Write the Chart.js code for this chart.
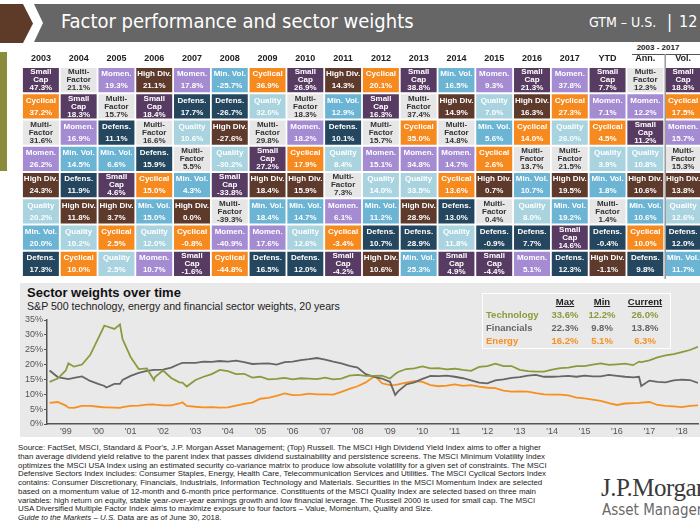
<!DOCTYPE html>
<html>
<head>
<meta charset="utf-8">
<script src="https://cdn.jsdelivr.net/npm/chart.js@4.4.0/dist/chart.umd.min.js"></script>
<style>
  html, body { margin: 0; padding: 0; background: #fff; overflow: hidden; }
  #page { position: relative; width: 700px; height: 525px; overflow: hidden;
    font-family: "Liberation Sans", Arial, sans-serif; }
  .abs { position: absolute; }
  #hdrBrown { left: 0; top: 4px; width: 34px; height: 39px; background: #5e3a29;
    clip-path: polygon(0 0, 23px 0, 33px 50%, 23px 100%, 0 100%); }
  #hdrBar { left: 34px; top: 4px; width: 666px; height: 38px; background: #666;
    clip-path: polygon(0 0, 100% 0, 100% 100%, 0 100%, 9px 50%); }
  #hdrTitle { left: 61px; top: 9px; color: #fff; font-size: 20px; white-space: nowrap;
    font-family: "Liberation Sans Narrow", "DejaVu Sans Condensed", sans-serif; }
  .hdrR { top: 14px; color: #fff; font-size: 14px; white-space: nowrap;
    font-family: "Liberation Sans Narrow", "DejaVu Sans Condensed", sans-serif; }
  #olive { left: 0; top: 52px; width: 7px; height: 119px; background: #8a8b3b; }
  #annHead { left: 632px; top: 43px; width: 52px; text-align: center; font-size: 8px;
    font-weight: bold; color: #222; }
  #annLine { left: 632px; top: 54px; width: 68px; height: 1px; background: #555; }
  #panel { left: 20px; top: 283px; width: 680px; height: 154px; background: #e9e9e9; }
  #lineTitle { left: 27px; top: 285px; font-size: 13px; font-weight: bold; color: #111; }
  #lineSub { left: 27px; top: 300px; font-size: 10.6px; color: #222; white-space: nowrap; }
  #statBox { left: 482px; top: 293px; width: 187px; height: 54px; border: 1.5px solid #fff; }
  .st { position: absolute; font-size: 9.5px; font-weight: bold; white-space: nowrap; }
  #footer { left: 18px; top: 444px; font-size: 7.9px; line-height: 8.75px; color: #222;
    white-space: pre; }
  #logo1 { left: 601px; top: 474px; font-family: "Liberation Serif", serif; font-size: 25px;
    color: #3a3a3a; white-space: nowrap; letter-spacing: -0.5px; }
  #logo2 { left: 602px; top: 501px; font-size: 15px; color: #6a6a6a; white-space: nowrap;
    font-family: "Liberation Sans Narrow", "DejaVu Sans Condensed", sans-serif; }
</style>
</head>
<body>
<div id="page">
  <div class="abs" id="hdrBrown"></div>
  <div class="abs" id="hdrBar"></div>
  <div class="abs" id="hdrTitle">Factor performance and sector weights</div>
  <div class="abs hdrR" style="left:589px;">GTM – U.S.</div>
  <div class="abs hdrR" style="left:667px;font-size:17px;top:12px;">|</div>
  <div class="abs hdrR" style="left:679px;font-size:16px;top:12px;">12</div>
  <div class="abs" id="olive"></div>
  <div class="abs" id="annHead">2003 - 2017</div>
  <div class="abs" id="annLine"></div>
  <canvas class="abs" id="quilt" width="720" height="240" style="left:0;top:40px;"></canvas>

  <div class="abs" id="panel"></div>
  <div class="abs" id="lineTitle">Sector weights over time</div>
  <div class="abs" id="lineSub">S&amp;P 500 technology, energy and financial sector weights, 20 years</div>
  <canvas class="abs" id="sectors" width="680" height="154" style="left:20px;top:283px;"></canvas>
  <div class="abs" id="statBox"></div>

  <div class="abs" id="footer">Source: FactSet, MSCI, Standard &amp; Poor's, J.P. Morgan Asset Management; (Top) Russell. The MSCI High Dividend Yield Index aims to offer a higher
than average dividend yield relative to the parent index that passes dividend sustainability and persistence screens. The MSCI Minimum Volatility Index
optimizes the MSCI USA Index using an estimated security co-variance matrix to produce low absolute volatility for a given set of constraints. The MSCI
Defensive Sectors Index includes: Consumer Staples, Energy, Health Care, Telecommunication Services and Utilities. The MSCI Cyclical Sectors Index
contains: Consumer Discretionary, Financials, Industrials, Information Technology and Materials. Securities in the MSCI Momentum Index are selected
based on a momentum value of 12-month and 6-month price performance. Constituents of the MSCI Quality Index are selected based on three main
variables: high return on equity, stable year-over-year earnings growth and low financial leverage. The Russell 2000 is used for small cap. The MSCI
USA Diversified Multiple Factor Index aims to maximize exposure to four factors – Value, Momentum, Quality and Size.
<i>Guide to the Markets – U.S.</i> Data are as of June 30, 2018.</div>
  <div class="abs" id="logo1">J.P.Morgan</div>
  <div class="abs" id="logo2">Asset Management</div>
</div>

<script>
  'use strict';

  // Quilt: columns, and per column the factors ranked top to bottom with their returns.
  const quiltColumns = ['2003', '2004', '2005', '2006', '2007', '2008', '2009', '2010',
    '2011', '2012', '2013', '2014', '2015', '2016', '2017', 'YTD', 'Ann.', 'Vol.'];

  const quiltFactors = [
    ['SC', 'CY', 'MF', 'MO', 'HD', 'QU', 'MV', 'DF'],
    ['MF', 'SC', 'MO', 'MV', 'DF', 'HD', 'QU', 'CY'],
    ['MO', 'MF', 'DF', 'MV', 'SC', 'HD', 'CY', 'QU'],
    ['HD', 'SC', 'MF', 'DF', 'CY', 'MV', 'QU', 'MO'],
    ['MO', 'DF', 'QU', 'MF', 'MV', 'HD', 'CY', 'SC'],
    ['MV', 'DF', 'HD', 'QU', 'SC', 'MF', 'MO', 'CY'],
    ['CY', 'QU', 'MF', 'SC', 'HD', 'MV', 'MO', 'DF'],
    ['SC', 'MF', 'MO', 'CY', 'HD', 'MV', 'QU', 'DF'],
    ['HD', 'MV', 'DF', 'QU', 'MF', 'MO', 'CY', 'SC'],
    ['CY', 'SC', 'MF', 'MO', 'QU', 'MV', 'DF', 'HD'],
    ['SC', 'MF', 'CY', 'MO', 'QU', 'HD', 'DF', 'MV'],
    ['MV', 'HD', 'MF', 'MO', 'CY', 'DF', 'QU', 'SC'],
    ['MO', 'QU', 'MV', 'CY', 'HD', 'MF', 'DF', 'SC'],
    ['SC', 'HD', 'CY', 'MF', 'MV', 'QU', 'DF', 'MO'],
    ['MO', 'CY', 'QU', 'MF', 'HD', 'MV', 'SC', 'DF'],
    ['SC', 'MO', 'CY', 'QU', 'MV', 'MF', 'DF', 'HD'],
    ['MF', 'MO', 'SC', 'QU', 'HD', 'MV', 'CY', 'DF'],
    ['SC', 'CY', 'MO', 'MF', 'HD', 'QU', 'DF', 'MV'],
  ];

  const quiltReturns = [
    [47.3, 37.2, 31.6, 26.2, 24.3, 20.2, 20.0, 17.3],
    [21.1, 18.3, 16.9, 14.5, 11.9, 11.8, 10.2, 10.0],
    [19.3, 15.7, 11.1, 6.6, 4.6, 3.7, 2.5, 2.5],
    [21.1, 18.4, 16.6, 15.9, 15.0, 15.0, 12.0, 10.7],
    [17.8, 17.7, 10.6, 5.5, 4.3, 0.0, -0.8, -1.6],
    [-25.7, -26.7, -27.6, -30.2, -33.8, -39.3, -40.9, -44.8],
    [36.9, 32.0, 29.8, 27.2, 18.4, 18.4, 17.6, 16.5],
    [26.9, 18.3, 18.2, 17.9, 15.9, 14.7, 12.6, 12.0],
    [14.3, 12.9, 10.1, 8.4, 7.3, 6.1, -3.4, -4.2],
    [20.1, 16.3, 15.7, 15.1, 14.0, 11.2, 10.7, 10.6],
    [38.8, 37.4, 35.0, 34.8, 33.5, 28.9, 28.9, 25.3],
    [16.5, 14.9, 14.8, 14.7, 13.6, 13.0, 11.8, 4.9],
    [9.3, 7.0, 5.6, 2.6, 0.7, 0.4, -0.9, -4.4],
    [21.3, 16.3, 14.0, 13.7, 10.7, 8.0, 7.7, 5.1],
    [37.8, 27.3, 26.0, 21.5, 19.5, 19.2, 14.6, 12.3],
    [7.7, 7.1, 4.5, 3.9, 1.8, 1.4, -0.4, -1.1],
    [12.3, 12.2, 11.2, 10.8, 10.6, 10.6, 10.0, 9.8],
    [18.8, 17.5, 15.7, 15.3, 13.8, 12.6, 12.0, 11.7],
  ];

  const factorLabels = {
    SC: ['Small', 'Cap'], MF: ['Multi-', 'Factor'], MO: ['Momen.'], HD: ['High Div.'],
    MV: ['Min. Vol.'], CY: ['Cyclical'], DF: ['Defens.'], QU: ['Quality'],
  };
  const factorColors = {
    SC: '#583b62', MF: '#e6e6e6', MO: '#a58bd2', HD: '#5d3a2b',
    MV: '#6cb4d3', CY: '#f68a1f', DF: '#24465e', QU: '#a9d3df',
  };

  // Sector weights, % of S&P 500.
  const sectorDates = [
    1998.5, 1998.75, 1999.0, 1999.08, 1999.25, 1999.5, 1999.75, 2000.0, 2000.19, 2000.25,
    2000.5, 2000.67, 2000.75, 2001.0, 2001.25, 2001.5, 2001.72, 2001.75, 2002.0, 2002.25,
    2002.5, 2002.6, 2002.73, 2003.0, 2003.25, 2003.5, 2003.75, 2004.0, 2004.25, 2004.5,
    2004.75, 2005.0, 2005.25, 2005.5, 2005.75, 2006.0, 2006.25, 2006.5, 2006.75, 2007.0,
    2007.25, 2007.5, 2007.75, 2008.0, 2008.25, 2008.54, 2008.75, 2009.0, 2009.16, 2009.25,
    2009.5, 2009.75, 2010.0, 2010.25, 2010.5, 2010.75, 2011.0, 2011.25, 2011.5, 2011.75,
    2012.0, 2012.25, 2012.5, 2012.75, 2013.0, 2013.25, 2013.5, 2013.75, 2014.0, 2014.25,
    2014.5, 2014.75, 2015.0, 2015.25, 2015.5, 2015.75, 2016.0, 2016.25, 2016.5, 2016.68,
    2016.75, 2017.0, 2017.25, 2017.5, 2017.75, 2018.0, 2018.25, 2018.5,
  ];
  const techWeights = [
    14.2, 15.3, 18.0, 20.4, 19.3, 20.0, 23.2, 28.8, 33.1, 32.9,
    32.0, 33.5, 28.6, 22.5, 18.5, 18.7, 14.8, 15.8, 18.0, 15.5,
    14.0, 13.9, 12.6, 14.8, 15.9, 16.8, 18.2, 17.8, 16.8, 16.9,
    15.6, 15.9, 15.0, 15.2, 15.5, 15.0, 15.4, 15.3, 15.1, 15.6,
    15.0, 15.3, 16.3, 16.5, 16.2, 16.2, 16.3, 15.3, 16.8, 17.5,
    18.5, 18.7, 19.4, 18.7, 18.8, 18.4, 18.6, 18.2, 17.9, 19.2,
    19.5, 20.3, 19.5, 19.5, 18.2, 17.8, 17.6, 17.6, 18.3, 18.8,
    19.0, 19.5, 19.5, 20.0, 20.4, 19.9, 20.1, 20.3, 19.8, 21.0,
    20.8, 21.4, 22.4, 23.1, 23.5, 24.2, 24.9, 26.0,
  ];
  const finWeights = [
    18.0, 15.8, 15.3, 15.1, 15.5, 16.0, 14.5, 13.5, 12.8, 12.3,
    13.5, 13.5, 14.8, 16.2, 17.2, 17.9, 18.2, 18.2, 18.3, 19.0,
    20.2, 20.6, 20.6, 20.6, 21.0, 20.9, 21.2, 21.0, 21.3, 20.8,
    20.2, 20.3, 20.4, 20.0, 20.8, 21.0, 21.5, 21.8, 22.2, 21.7,
    21.0, 20.4, 19.6, 19.0, 16.8, 15.8, 15.3, 14.2, 9.8, 11.0,
    13.3, 14.0, 15.2, 16.2, 16.1, 16.3, 15.9, 15.4, 14.7, 13.9,
    13.7, 14.7, 15.0, 15.5, 15.8, 16.3, 16.5, 15.9, 15.9, 16.0,
    16.2, 15.9, 16.3, 16.0, 16.0, 16.5, 16.2, 15.9, 15.7, 15.9,
    12.8, 14.6, 14.2, 14.0, 14.7, 14.9, 14.8, 13.8,
  ];
  const energyWeights = [
    7.1, 7.4, 6.2, 5.5, 5.4, 6.1, 6.1, 5.8, 5.6, 5.6,
    5.5, 5.4, 5.7, 6.1, 6.2, 6.5, 6.6, 6.5, 6.3, 6.3,
    6.9, 7.3, 6.1, 5.8, 5.6, 5.7, 5.5, 5.6, 6.2, 6.8,
    7.2, 8.5, 8.8, 9.5, 10.3, 9.7, 9.8, 10.2, 10.0, 10.0,
    9.9, 10.8, 11.8, 12.7, 14.0, 16.2, 13.7, 13.1, 13.2, 13.3,
    13.9, 14.4, 14.2, 13.1, 12.7, 12.9, 13.3, 12.8, 13.1, 12.6,
    12.2, 12.1, 11.2, 10.9, 11.0, 10.9, 10.4, 10.0, 9.9, 9.9,
    9.6, 8.9, 8.6, 8.2, 7.8, 7.0, 6.4, 6.9, 7.0, 7.1,
    7.2, 7.4, 6.4, 6.1, 5.9, 5.7, 6.1, 6.3,
  ];
  const yearTicks = [1999, 2000, 2001, 2002, 2003, 2004, 2005, 2006, 2007, 2008,
    2009, 2010, 2011, 2012, 2013, 2014, 2015, 2016, 2017, 2018];

  const statNames = ['Technology', 'Financials', 'Energy'];
  const statMax = [33.6, 22.3, 16.2];
  const statMin = [12.2, 9.8, 5.1];
  const statCurrent = [26.0, 13.8, 6.3];
  const sectorColors = ['#8b9a3c', '#666666', '#f7901e'];

  Chart.defaults.font.family = '"Liberation Sans", Arial, sans-serif';

  // ---- quilt ----
  const cellText = {
    id: 'cellText',
    afterDatasetsDraw(chart) {
      const ctx = chart.ctx;
      ctx.save();
      ctx.textAlign = 'center';
      ctx.textBaseline = 'middle';
      ctx.font = 'bold 8px "Liberation Sans", Arial, sans-serif';
      chart.data.datasets.forEach((ds, r) => {
        chart.getDatasetMeta(r).data.forEach((bar, c) => {
          let p = bar.getProps(['x', 'y', 'base'], true);
          let code = quiltFactors[c][r];
          let lines = factorLabels[code].concat(quiltReturns[c][r].toFixed(1) + '%');
          let mid = (p.y + p.base) / 2;
          let step = lines.length === 3 ? 8 : 12;
          ctx.fillStyle = code === 'MF' ? '#333' : '#fff';
          lines.forEach((t, k) => {
            ctx.fillText(t, p.x, mid + (k - (lines.length - 1) / 2) * step);
          });
        });
      });
      // divider between Ann. and Vol.
      let xs = chart.scales.x;
      let xd = (xs.getPixelForValue(16) + xs.getPixelForValue(17)) / 2 + 1;
      ctx.strokeStyle = '#9a9a9a';
      ctx.lineWidth = 1.5;
      ctx.beginPath();
      ctx.moveTo(xd, 14);
      ctx.lineTo(xd, chart.chartArea.bottom + 2);
      ctx.stroke();
      ctx.restore();
    },
  };

  let quiltConfig = {
    type: 'bar',
    data: {
      labels: quiltColumns,
      datasets: quiltFactors[0].map((f, r) => ({
        data: quiltColumns.map(() => [r + 0.035, r + 0.965]),
        backgroundColor: quiltColumns.map((col, c) => factorColors[quiltFactors[c][r]]),
        grouped: false,
        barPercentage: 0.952,
        categoryPercentage: 1,
      })),
    },
    options: {
      responsive: false,
      animation: false,
      events: [],
      layout: {padding: {left: 22, right: 18, top: 0, bottom: 3}},
      plugins: {legend: {display: false}, tooltip: {enabled: false}},
      scales: {
        x: {
          position: 'top',
          grid: {display: false, drawTicks: false},
          border: {display: false},
          ticks: {color: '#222', font: {size: 9, weight: 'bold'}, padding: 3, maxRotation: 0, autoSkip: false},
          afterFit: (scale) => { scale.height = 27; },
        },
        y: {display: false, min: 0, max: 8, reverse: true},
      },
    },
    plugins: [cellText],
  };
  new Chart(document.getElementById('quilt'), quiltConfig);

  // ---- sector weights line chart ----
  let seriesValues = [techWeights, finWeights, energyWeights];
  let lineConfig = {
    type: 'line',
    data: {
      datasets: statNames.map((name, i) => ({
        label: name,
        data: sectorDates.map((d, k) => ({x: d, y: seriesValues[i][k]})),
        borderColor: sectorColors[i],
        borderWidth: 1.8,
        pointRadius: 0,
        fill: false,
        tension: 0,
      })),
    },
    options: {
      responsive: false,
      animation: false,
      events: [],
      layout: {padding: {left: 0, right: 2, top: 37, bottom: 0}},
      plugins: {legend: {display: false}, tooltip: {enabled: false}},
      scales: {
        x: {
          type: 'linear',
          min: 1998.42,
          max: 2018.5,
          grid: {display: false, drawTicks: false},
          border: {color: '#555', width: 1.5},
          ticks: {
            color: '#555', font: {size: 9}, padding: 2, includeBounds: false,
            callback: (v) => "'" + String(v).slice(2),
          },
          afterBuildTicks: (scale) => { scale.ticks = yearTicks.map((v) => ({value: v})); },
          afterFit: (scale) => { scale.height = 13; },
        },
        y: {
          min: 0,
          max: 35,
          grid: {drawOnChartArea: false, tickLength: 3, color: '#555'},
          border: {color: '#555', width: 1.5},
          ticks: {stepSize: 5, color: '#555', font: {size: 9}, padding: 1,
            callback: (v) => v + '%'},
          afterFit: (scale) => { scale.width = 27; },
        },
      },
    },
  };
  new Chart(document.getElementById('sectors'), lineConfig);

  // stats box
  let box = document.getElementById('statBox');
  let colCenters = [82, 119, 162];
  ['Max', 'Min', 'Current'].forEach((h, j) => {
    let el = document.createElement('div');
    el.className = 'st';
    el.style.cssText = 'left:' + (colCenters[j] - 30) + 'px;width:60px;text-align:center;top:2px;color:#222;text-decoration:underline;';
    el.textContent = h;
    box.appendChild(el);
  });
  statNames.forEach((name, i) => {
    let top = 15 + i * 13;
    let el = document.createElement('div');
    el.className = 'st';
    el.style.cssText = 'left:3px;top:' + top + 'px;color:' + sectorColors[i] + ';';
    el.textContent = name;
    box.appendChild(el);
    [statMax[i], statMin[i], statCurrent[i]].forEach((v, j) => {
      let c = document.createElement('div');
      c.className = 'st';
      c.style.cssText = 'left:' + (colCenters[j] - 30) + 'px;width:60px;text-align:center;top:' + top + 'px;color:' + sectorColors[i] + ';';
      c.textContent = v.toFixed(1) + '%';
      box.appendChild(c);
    });
  });
</script>
</body>
</html>
